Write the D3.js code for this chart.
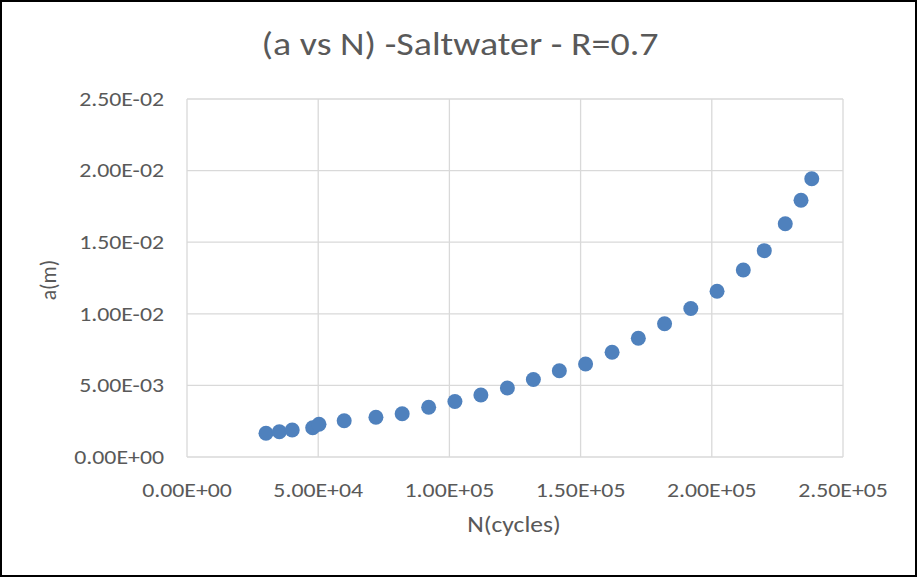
<!DOCTYPE html>
<html><head><meta charset="utf-8">
<script src="https://cdn.jsdelivr.net/npm/d3@7"></script>
<style>html,body{margin:0;padding:0;background:#fff;}svg{display:block;}</style>
</head><body>
<svg id="c" width="917" height="577"></svg>
<script>
const cycles = [30100, 35200, 40100, 47900, 50300, 59900, 72000, 82000, 92100, 102100, 112000, 122100, 132000, 141900, 151900, 162000, 172000, 182000, 192000, 202000, 212000, 220000, 228000, 234000, 238100];
const crack = [1.655e-3, 1.767e-3, 1.885e-3, 2.046e-3, 2.284e-3, 2.535e-3, 2.772e-3, 3.024e-3, 3.471e-3, 3.876e-3, 4.330e-3, 4.818e-3, 5.412e-3, 6.027e-3, 6.494e-3, 7.311e-3, 8.289e-3, 9.309e-3, 1.037e-2, 1.157e-2, 1.306e-2, 1.441e-2, 1.629e-2, 1.793e-2, 1.943e-2];
const xTicks = [0, 50000, 100000, 150000, 200000, 250000];
const yTicks = [0, 0.005, 0.01, 0.015, 0.02, 0.025];
const title = "(a vs N) -Saltwater - R=0.7";
const xTitle = "N(cycles)";
const yTitle = "a(m)";

const font = "Carlito, 'Liberation Sans Narrow', 'Open Sans', sans-serif";
const SX = 1.19;
const svg = d3.select("#c");
const W = 917, H = 577;
svg.append("rect").attr("x",1).attr("y",1).attr("width",W-2).attr("height",H-2)
  .attr("fill","#fff").attr("stroke","#000").attr("stroke-width",2);

const x = d3.scaleLinear().domain([0,250000]).range([187,843]);
const y = d3.scaleLinear().domain([0,0.025]).range([457,99]);
const fmt = v => { const s = v.toExponential(2).toUpperCase(); return s.replace(/E([+-])(\d)$/, "E$10$2"); };

const g = svg.append("g");
g.selectAll("line.gx").data(xTicks).join("line")
  .attr("x1",d=>x(d)).attr("x2",d=>x(d)).attr("y1",y(0.025)).attr("y2",y(0))
  .attr("stroke","#d9d9d9").attr("stroke-width",1.3);
g.selectAll("line.gy").data(yTicks).join("line")
  .attr("x1",x(0)).attr("x2",x(250000)).attr("y1",d=>y(d)).attr("y2",d=>y(d))
  .attr("stroke","#d9d9d9").attr("stroke-width",1.3);

g.selectAll("text.xt").data(xTicks).join("text")
  .attr("transform",d=>`translate(${x(d)},497) scale(${SX},1)`).attr("text-anchor","middle")
  .attr("font-family",font).attr("font-size",20).attr("fill","#595959").text(fmt);
g.selectAll("text.yt").data(yTicks).join("text")
  .attr("transform",d=>`translate(164,${y(d)+6.7}) scale(${SX},1)`).attr("text-anchor","end")
  .attr("font-family",font).attr("font-size",20).attr("fill","#595959").text(fmt);

svg.append("text").attr("transform",`translate(460,55) scale(1.15,1)`).attr("text-anchor","middle")
  .attr("font-family",font).attr("font-size",33).attr("fill","#595959").text(title);
svg.append("text").attr("transform",`translate(514,532) scale(${SX},1)`).attr("text-anchor","middle")
  .attr("font-family",font).attr("font-size",21.5).attr("fill","#595959").text(xTitle);
svg.append("text").attr("transform","translate(56,280) rotate(-90)").attr("text-anchor","middle")
  .attr("font-family",font).attr("font-size",21.5).attr("fill","#595959").text(yTitle);

svg.append("g").selectAll("circle").data(cycles.map((c,i)=>[c,crack[i]])).join("circle")
  .attr("cx",d=>x(d[0])).attr("cy",d=>y(d[1])).attr("r",7.5).attr("fill","#4f81bd");
</script>
</body></html>
